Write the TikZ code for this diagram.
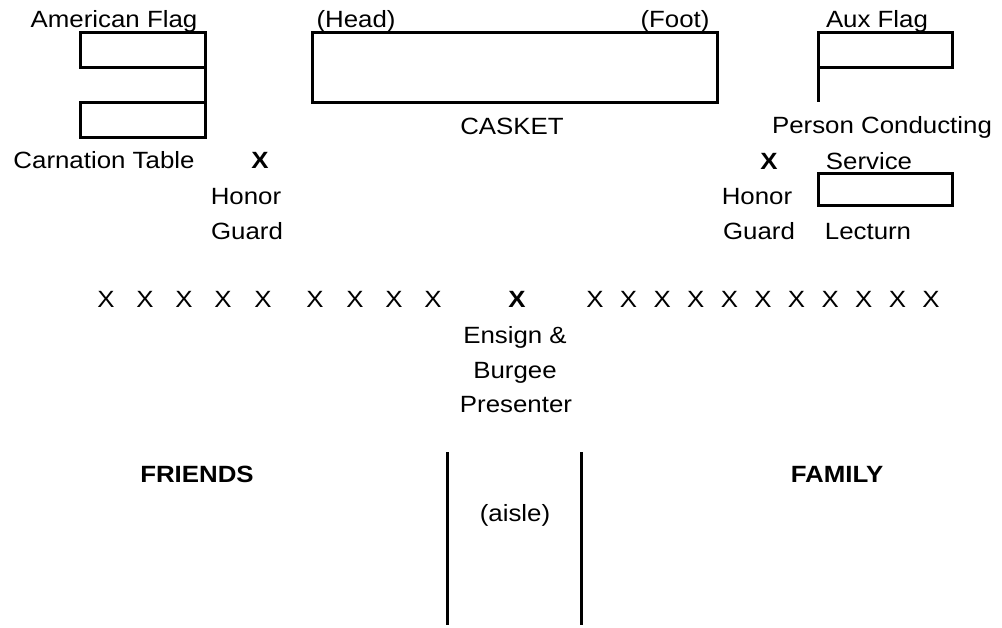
\documentclass[tikz,border=0pt]{standalone}
\usepackage{fontspec}
\setmainfont[FakeStretch=1.1]{Liberation Sans}

\begin{document}
\begin{tikzpicture}[x=1pt,y=-1pt,line width=3pt,line join=miter,
    lbl/.style={anchor=base,inner sep=0pt,font=\fontsize{23.5}{28}\selectfont},
    boldlbl/.style={lbl,font=\fontsize{23.5}{28}\selectfont\bfseries}]
    \useasboundingbox (0,0) rectangle (1002,627);
    % flags, casket, lectern
    \draw (80,32) rectangle (205,67);
    \draw (80,102) rectangle (205,137);
    \draw (205,32) -- (205,137);
    \draw (312,32) rectangle (717,102);
    \draw (818,32) rectangle (952,67);
    \draw (818,32) -- (818,102);
    \draw (818,173) rectangle (952,205);
    % aisle
    \draw (447,452) -- (447,625);
    \draw (581,452) -- (581,625);
    % labels
    \node[lbl] (amflag) at (114,27) {American Flag};
    \node[lbl] (carnation) at (104,168) {Carnation Table};
    \node[lbl,anchor=base west] (head) at (315,27) {(Head)};
    \node[lbl,anchor=base east] (foot) at (711,27) {(Foot)};
    \node[lbl] (casket) at (512,134) {CASKET};
    \node[lbl] (auxflag) at (877,27) {Aux Flag};
    \node[lbl] (conducting) at (882,133) {Person Conducting};
    \node[lbl] (service) at (869,169) {Service};
    \node[lbl] (lecturn) at (868,239) {Lecturn};
    \node[boldlbl] (guardL) at (260,168) {X};
    \node[lbl] (honorL) at (246,204) {Honor};
    \node[lbl] (guardLtxt) at (247,239) {Guard};
    \node[boldlbl] (guardR) at (769,169) {X};
    \node[lbl] (honorR) at (757,204) {Honor};
    \node[lbl] (guardRtxt) at (759,239) {Guard};
    % row of seats
    \foreach \x [count=\i] in {106,145,184,223,263,315,355,394,433}
        \node[lbl] (seatL\i) at (\x,307) {X};
    \foreach \i in {0,...,10}
        \node[lbl] (seatR\i) at (595+33.6*\i,307) {X};
    \node[boldlbl] (ensign) at (517,307) {X};
    \node[lbl] (ensign1) at (515,343) {Ensign \&};
    \node[lbl] (ensign2) at (515,378) {Burgee};
    \node[lbl] (ensign3) at (516,412) {Presenter};
    \node[boldlbl] (friends) at (197,482) {FRIENDS};
    \node[boldlbl] (family) at (837,482) {FAMILY};
    \node[lbl] (aisle) at (515,521) {(aisle)};
\end{tikzpicture}
\end{document}
